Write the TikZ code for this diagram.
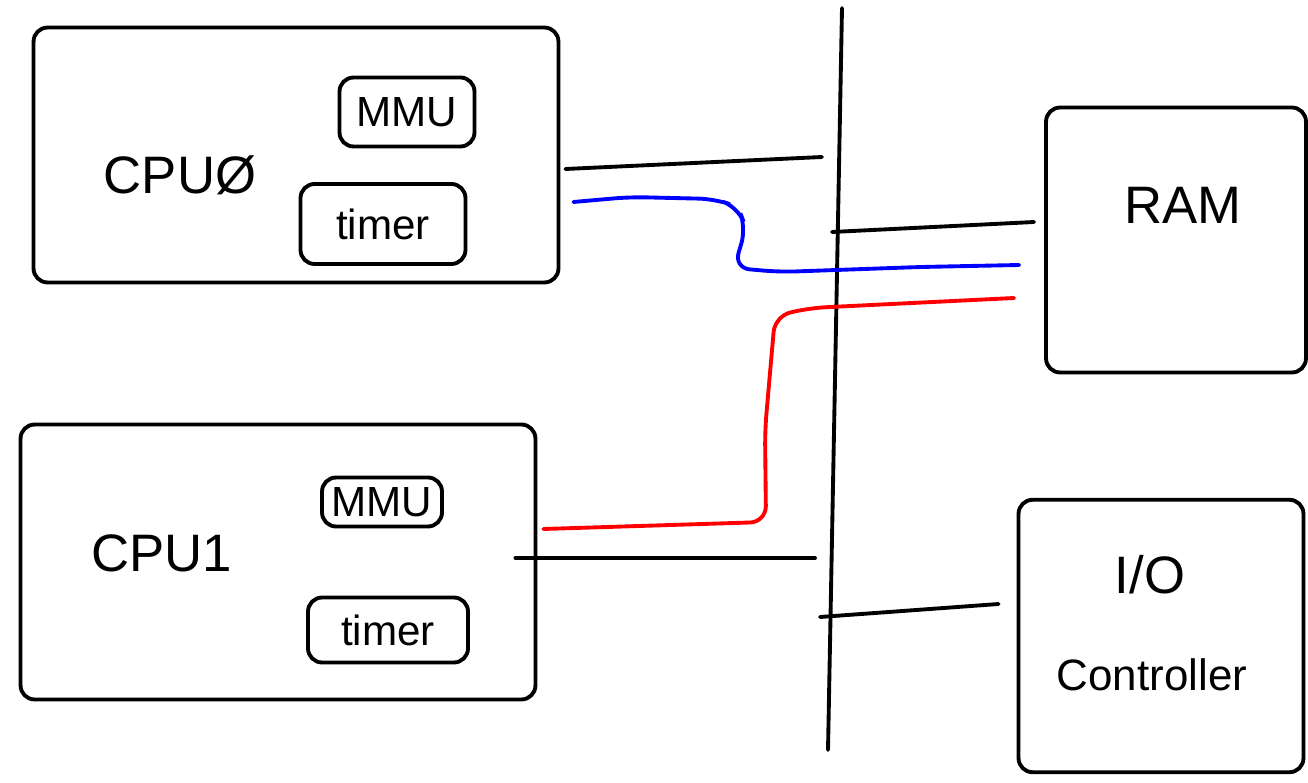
\documentclass[tikz,border=0pt]{standalone}
\usepackage{fontspec}
\setmainfont{Liberation Sans}
\usetikzlibrary{calc,positioning}

\begin{document}
\begin{tikzpicture}[x=0.02cm,y=-0.02cm,
    box/.style={draw,line width=2.2pt,rounded corners=8pt,inner sep=0pt},
    unit/.style={box,font=\fontsize{24}{26}\selectfont},
    lbl/.style={font=\fontsize{30}{32}\selectfont},
    wire/.style={line width=2.2pt,line cap=round,rounded corners=9pt}]
  \useasboundingbox (0,0) rectangle (1308,783);
  % CPU0
  \node[box,minimum width=10.5cm,minimum height=5.1cm] (cpu0) at (296,155) {};
  \node[lbl] (cpu0lbl) at (180,175) {CPUØ};
  \node[unit,minimum width=2.7cm,minimum height=1.38cm] (mmu0) at (407,112) {MMU};
  \node[unit,minimum width=3.3cm,minimum height=1.6cm] (tmr0) at (383,224) {timer};
  % CPU1
  \node[box,minimum width=10.3cm,minimum height=5.5cm] (cpu1) at (278,562) {};
  \node[lbl] (cpu1lbl) at (162,553) {CPU1};
  \node[unit,minimum width=2.4cm,minimum height=0.98cm] (mmu1) at (382,502) {MMU};
  \node[unit,minimum width=3.2cm,minimum height=1.3cm] (tmr1) at (388,630) {timer};
  % memory and I/O
  \node[box,minimum width=5.2cm,minimum height=5.3cm] (ram) at (1176,240) {};
  \node[lbl] (ramlbl) at (1183,205) {RAM};
  \node[box,minimum width=5.7cm,minimum height=5.45cm] (io) at (1161,636) {};
  \node[lbl] (iolbl) at (1150,575) {I/O};
  \node[lbl,font=\fontsize{25}{27}\selectfont] (ctrllbl) at (1152,675) {Controller};

  % system bus
  \draw[wire] (842,8) coordinate (bustop) -- (828,750) coordinate (busbot);
  \coordinate (b0) at (822,157);
  \coordinate (b1) at (815,558);
  \coordinate (bram) at (832,232);
  \coordinate (bio) at (820,617);
  \draw[wire] ($(cpu0.east)+(5,14)$) -- (b0);
  \draw[wire] (b1) -- ($(cpu1.east)+(-22,-4)$);
  \draw[wire] (bram) -- ($(ram.west)+(-10,-18)$);
  \draw[wire] (bio) -- ($(io.west)+(-18,-32)$);

  % interrupt lines
  \draw[wire,blue] ($(cpu0.east)+(13,47)$) -- (630,197) -- (715,199)
    -- (738,207) -- (746,228) -- (734,268) -- (780,272) -- (920,267)
    -- ($(ram.west)+(-25,25)$);
  \draw[wire,red] ($(cpu1.east)+(6,-33)$) -- (766,522) -- (765,430)
    -- (775,316) -- (810,308) -- ($(ram.west)+(-30,58)$);
\end{tikzpicture}
\end{document}
